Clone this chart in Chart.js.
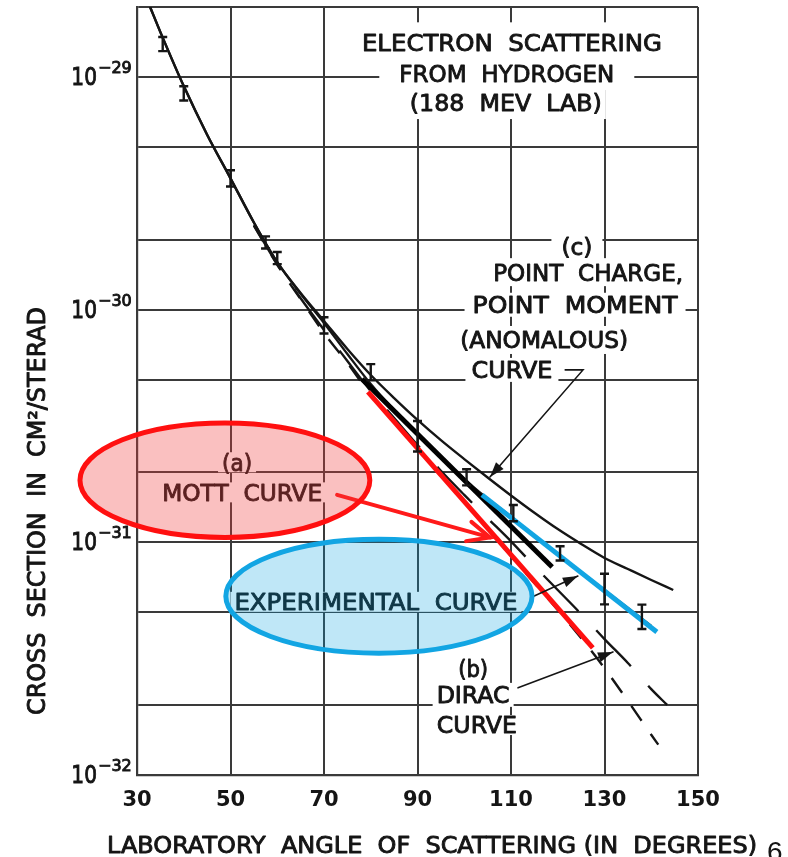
<!DOCTYPE html>
<html>
<head>
<meta charset="utf-8">
<title>Electron scattering from hydrogen</title>
<script src="https://cdn.jsdelivr.net/npm/chart.js@4.4.1/dist/chart.umd.min.js"></script>
<style>
  html, body { margin: 0; padding: 0; background: #fff; }
  #wrap { position: relative; width: 788px; height: 857px; }
</style>
</head>
<body>
<div id="wrap"><canvas id="scatterChart"></canvas></div>
<script>
// Laboratory angle in degrees, cross section in cm^2/sterad

// (c) point charge, point moment (anomalous)
const ANGLE_C = [32.8, 35, 40, 45, 50, 55, 60, 65, 70, 75, 80, 85, 90, 95, 100, 105, 110, 115, 120, 125, 130, 135, 140, 144.7];
const SIGMA_C = [2.00e-29, 1.56e-29, 9.14e-30, 5.65e-30, 3.67e-30, 2.37e-30, 1.60e-30, 1.18e-30, 8.94e-31, 6.78e-31,
                 5.24e-31, 4.17e-31, 3.36e-31, 2.75e-31, 2.28e-31, 1.90e-31, 1.59e-31, 1.34e-31, 1.14e-31, 9.84e-32,
                 8.57e-32, 7.68e-32, 6.89e-32, 6.24e-32];

// experimental curve
const ANGLE_EXP = [32.8, 35, 40, 45, 50, 55, 60, 65, 70, 75, 80, 85, 90, 95, 100, 105, 110, 115, 120, 125, 130, 135, 140];
const SIGMA_EXP = [2.00e-29, 1.56e-29, 9.14e-30, 5.65e-30, 3.67e-30, 2.37e-30, 1.60e-30, 1.17e-30, 8.77e-31, 6.45e-31,
                   4.79e-31, 3.70e-31, 2.92e-31, 2.33e-31, 1.87e-31, 1.54e-31, 1.29e-31, 1.06e-31, 8.91e-32, 7.46e-32,
                   6.24e-32, 5.22e-32, 4.37e-32];

// (b) Dirac curve
const ANGLE_DIRAC = [55, 60, 65, 70, 75, 80, 85, 90, 95, 100, 105, 110, 115, 120, 125, 130, 135, 140, 143.4];
const SIGMA_DIRAC = [2.31e-30, 1.57e-30, 1.12e-30, 8.18e-31, 6.02e-31, 4.47e-31, 3.42e-31, 2.62e-31, 2.03e-31, 1.60e-31,
                     1.27e-31, 1.01e-31, 7.91e-32, 6.24e-32, 4.92e-32, 3.84e-32, 3.03e-32, 2.34e-32, 2.00e-32];

// (a) Mott curve
const ANGLE_MOTT = [55, 60, 65, 70, 75, 80, 85, 90, 95, 100, 105, 110, 115, 120, 125, 130, 135, 140, 141.5];
const SIGMA_MOTT = [2.30e-30, 1.56e-30, 1.11e-30, 7.94e-31, 5.90e-31, 4.30e-31, 3.29e-31, 2.52e-31, 1.93e-31, 1.49e-31,
                    1.14e-31, 8.73e-32, 6.69e-32, 5.12e-32, 3.88e-32, 2.88e-32, 2.08e-32, 1.49e-32, 1.35e-32];

// measured points with relative errors (%)
const POINT_ANGLE = [35.5, 40, 50, 57.5, 60, 70, 80, 90, 100.5, 110.5, 120.5, 130, 138];
const POINT_SIGMA = [1.39e-29, 8.53e-30, 3.68e-30, 1.95e-30, 1.67e-30, 8.59e-31, 5.40e-31, 2.89e-31, 1.91e-31, 1.34e-31,
                     8.99e-32, 6.37e-32, 4.82e-32];
const POINT_ERR_PCT = [7, 7, 8, 6, 6, 8, 8, 15, 8, 8, 7, 15, 12];

// straight marker strokes laid over the curves
const RED_ANGLE = [79.4, 127.5];
const RED_SIGMA = [4.43e-31, 3.52e-32];
const BLACK_ANGLE = [78.1, 118.8];
const BLACK_SIGMA = [5.04e-31, 7.83e-32];
const BLUE_ANGLE = [103.8, 141.2];
const BLUE_SIGMA = [1.60e-31, 4.12e-32];

// axes
const X_TICKS = [30, 50, 70, 90, 110, 130, 150];
const Y_GRID = [1e-32, 2e-32, 5e-32, 1e-31, 2e-31, 5e-31, 1e-30, 2e-30, 5e-30, 1e-29, 2e-29];
const Y_LABEL_EXP = [-29, -30, -31, -32];

const FONT = '"DejaVu Sans", "Liberation Sans", sans-serif';
const INK = '#151515';
const GRID = '#3a3a3a';

// text notes anchored in data coordinates: [angle, sigma]
const NOTES = [
  { text: 'ELECTRON  SCATTERING', at: [110.2, 1.41e-29], w: 300, pad: [6, 20] },
  { text: 'FROM  HYDROGEN',       at: [109.1, 1.03e-29], w: 215, pad: [20, 16] },
  { text: '(188  MEV  LAB)',      at: [108.9, 7.73e-30], w: 192, pad: [4, 16] },
  { text: '(c)',                  at: [124.1, 1.86e-30], w: 31,  pad: [10, 14] },
  { text: 'POINT  CHARGE,',       at: [126.5, 1.45e-30], w: 190, pad: [4, 14] },
  { text: 'POINT  MOMENT',        at: [123.7, 1.05e-30], w: 205, pad: [8, 12] },
  { text: '(ANOMALOUS)',          at: [117.1, 7.41e-31], w: 168, pad: [4, 14] },
  { text: 'CURVE',                at: [110.2, 5.51e-31], w: 81,  pad: [6, 12] },
  { text: '(a)',                  at: [51.4, 2.21e-31],  w: 30,  pad: [4, 10] },
  { text: 'MOTT  CURVE',          at: [52.5, 1.64e-31],  w: 160, pad: [6, 10] },
  { text: 'EXPERIMENTAL  CURVE',  at: [81.1, 5.55e-32],  w: 283, pad: [4, 10] },
  { text: '(b)',                  at: [101.9, 2.88e-32], w: 30,  pad: [4, 12] },
  { text: 'DIRAC',                at: [101.9, 2.21e-32], w: 73,  pad: [4, 12] },
  { text: 'CURVE',                at: [102.7, 1.64e-32], w: 80,  pad: [4, 10] }
];

// pointer arrows (last point is the tip)
const ARROWS = [
  { path: [[121.6, 5.51e-31], [125.4, 5.51e-31], [105.5, 1.91e-31]], color: INK, width: 1.6, head: 'fill' },
  { path: [[114.5, 5.82e-32], [124.3, 7.16e-32]], color: INK, width: 1.6, head: 'fill' },
  { path: [[111.5, 2.37e-32], [131.8, 3.38e-32]], color: INK, width: 1.6, head: 'fill' },
  { path: [[72.8, 1.60e-31], [105.5, 1.05e-31]], color: '#ff1a1a', width: 4, head: 'open' }
];

// highlight ellipses given by their bounding box [angle1, angle2, sigmaTop, sigmaBottom]
const ELLIPSES = [
  { box: [17.8, 79.8, 3.26e-31, 1.05e-31], fill: 'rgba(240, 60, 60, 0.32)', stroke: '#ff1010' },
  { box: [49.0, 114.5, 1.03e-31, 3.34e-32], fill: 'rgba(0, 160, 225, 0.25)', stroke: '#12a5e3' }
];

function pairs(xs, ys) {
  return xs.map((x, i) => ({ x: x, y: ys[i] }));
}

// lettering: filled and lightly stroked so it reads as a drafting pen
function fitText(ctx, str, x, y, size, width) {
  ctx.save();
  ctx.font = size + 'px ' + FONT;
  const w0 = ctx.measureText(str).width;
  ctx.translate(x, y);
  if (width) ctx.scale(width / w0, 1);
  ctx.textAlign = 'center';
  ctx.textBaseline = 'alphabetic';
  ctx.lineWidth = 0.9;
  ctx.lineJoin = 'round';
  ctx.strokeStyle = ctx.fillStyle;
  ctx.fillText(str, 0, size * 0.365);
  ctx.strokeText(str, 0, size * 0.365);
  ctx.restore();
}

function arrowHead(ctx, from, to, len, half, style) {
  const ang = Math.atan2(to[1] - from[1], to[0] - from[0]);
  const bx = to[0] - len * Math.cos(ang), by = to[1] - len * Math.sin(ang);
  const nx = -Math.sin(ang) * half, ny = Math.cos(ang) * half;
  ctx.beginPath();
  if (style === 'fill') {
    ctx.moveTo(to[0], to[1]);
    ctx.lineTo(bx + nx, by + ny);
    ctx.lineTo(bx - nx, by - ny);
    ctx.closePath();
    ctx.fill();
  } else {
    ctx.moveTo(bx + nx, by + ny);
    ctx.lineTo(to[0], to[1]);
    ctx.lineTo(bx - nx, by - ny);
    ctx.stroke();
  }
}

// white boxes behind the notes, drawn over the grid but under the curves
const noteBacks = {
  id: 'noteBacks',
  beforeDatasetsDraw(chart) {
    const ctx = chart.ctx, xs = chart.scales.x, ys = chart.scales.y;
    ctx.save();
    ctx.fillStyle = '#fff';
    NOTES.forEach(n => {
      const x = xs.getPixelForValue(n.at[0]), y = ys.getPixelForValue(n.at[1]);
      ctx.fillRect(x - n.w / 2 - n.pad[0], y - n.pad[1], n.w + 2 * n.pad[0], 2 * n.pad[1]);
    });
    ctx.fillStyle = INK;
    NOTES.forEach(n => {
      fitText(ctx, n.text, xs.getPixelForValue(n.at[0]), ys.getPixelForValue(n.at[1]), 23, n.w);
    });
    ctx.restore();
  }
};

// error bars, arrows, ellipses, y labels and axis titles
const decorations = {
  id: 'decorations',
  afterDatasetsDraw(chart) {
    const ctx = chart.ctx, xs = chart.scales.x, ys = chart.scales.y;
    ctx.save();

    // error bars
    ctx.strokeStyle = INK;
    ctx.lineWidth = 2.4;
    POINT_ANGLE.forEach((a, i) => {
      const x = xs.getPixelForValue(a);
      const e = POINT_ERR_PCT[i] / 100;
      const yTop = ys.getPixelForValue(POINT_SIGMA[i] * (1 + e));
      const yBot = ys.getPixelForValue(POINT_SIGMA[i] * (1 - e));
      ctx.beginPath();
      ctx.moveTo(x, yTop); ctx.lineTo(x, yBot);
      ctx.moveTo(x - 4.5, yTop); ctx.lineTo(x + 4.5, yTop);
      ctx.moveTo(x - 4.5, yBot); ctx.lineTo(x + 4.5, yBot);
      ctx.stroke();
    });

    // arrows
    ARROWS.forEach(ar => {
      const pts = ar.path.map(p => [xs.getPixelForValue(p[0]), ys.getPixelForValue(p[1])]);
      ctx.strokeStyle = ar.color;
      ctx.fillStyle = ar.color;
      ctx.lineWidth = ar.width;
      ctx.lineCap = 'round';
      ctx.beginPath();
      pts.forEach((p, i) => i ? ctx.lineTo(p[0], p[1]) : ctx.moveTo(p[0], p[1]));
      ctx.stroke();
      const n = pts.length;
      if (ar.head === 'fill') arrowHead(ctx, pts[n - 2], pts[n - 1], 15, 5, 'fill');
      else arrowHead(ctx, pts[n - 2], pts[n - 1], 22, 10, 'open');
    });

    // ellipses
    ELLIPSES.forEach(el => {
      const x1 = xs.getPixelForValue(el.box[0]), x2 = xs.getPixelForValue(el.box[1]);
      const y1 = ys.getPixelForValue(el.box[2]), y2 = ys.getPixelForValue(el.box[3]);
      ctx.beginPath();
      ctx.ellipse((x1 + x2) / 2, (y1 + y2) / 2, (x2 - x1) / 2, (y2 - y1) / 2, 0, 0, Math.PI * 2);
      ctx.fillStyle = el.fill;
      ctx.fill();
      ctx.strokeStyle = el.stroke;
      ctx.lineWidth = 5;
      ctx.stroke();
    });

    // y labels as powers of ten
    ctx.fillStyle = INK;
    ctx.strokeStyle = INK;
    ctx.lineWidth = 0.9;
    Y_LABEL_EXP.forEach(p => {
      const y = ys.getPixelForValue(Math.pow(10, p));
      ctx.font = '24px ' + FONT;
      ctx.textAlign = 'right';
      ctx.textBaseline = 'alphabetic';
      ctx.save();
      ctx.translate(97, y + 8);
      ctx.scale(0.84, 1);
      ctx.fillText('10', 0, 0);
      ctx.strokeText('10', 0, 0);
      ctx.restore();
      ctx.font = '16px ' + FONT;
      ctx.textAlign = 'left';
      ctx.fillText('\u2212' + String(-p), 98, y - 4);
      ctx.strokeText('\u2212' + String(-p), 98, y - 4);
    });

    // axis titles
    fitText(ctx, 'LABORATORY  ANGLE  OF  SCATTERING (IN  DEGREES)', 432, 845, 23, 650);
    ctx.save();
    ctx.translate(36, 511);
    ctx.rotate(-Math.PI / 2);
    fitText(ctx, 'CROSS  SECTION  IN  CM\u00B2/STERAD', 0, 0, 24, 408);
    ctx.restore();

    // page number
    ctx.font = '28px "Liberation Sans", sans-serif';
    ctx.textAlign = 'left';
    ctx.fillText('6', 767, 861);

    ctx.restore();
  }
};

const curve = {
  type: 'line',
  borderColor: INK,
  borderWidth: 2.4,
  pointRadius: 0,
  fill: false,
  cubicInterpolationMode: 'monotone',
  order: 10
};

new Chart(document.getElementById('scatterChart'), {
  type: 'line',
  data: {
    datasets: [
      { label: 'Experimental (blue)', data: pairs(BLUE_ANGLE, BLUE_SIGMA), borderColor: '#12a5e3', borderWidth: 5, pointRadius: 0, borderCapStyle: 'butt', order: 0 },
      { label: 'Mott (red)', data: pairs(RED_ANGLE, RED_SIGMA), borderColor: '#ff1010', borderWidth: 5, pointRadius: 0, borderCapStyle: 'butt', order: 1 },
      { label: 'Experimental (black)', data: pairs(BLACK_ANGLE, BLACK_SIGMA), borderColor: '#000', borderWidth: 5, pointRadius: 0, borderCapStyle: 'butt', order: 2 },
      Object.assign({ label: '(c) point charge, point moment', data: pairs(ANGLE_C, SIGMA_C) }, curve),
      Object.assign({ label: 'Experimental curve', data: pairs(ANGLE_EXP, SIGMA_EXP) }, curve),
      Object.assign({ label: '(b) Dirac curve', data: pairs(ANGLE_DIRAC, SIGMA_DIRAC), borderDash: [50, 26] }, curve),
      Object.assign({ label: '(a) Mott curve', data: pairs(ANGLE_MOTT, SIGMA_MOTT), borderDash: [18, 16] }, curve),
      { label: 'Measured', type: 'scatter', data: pairs(POINT_ANGLE, POINT_SIGMA), pointRadius: 0, showLine: false, order: 5 }
    ]
  },
  options: {
    responsive: true,
    maintainAspectRatio: false,
    animation: false,
    layout: { padding: { top: 7, right: 90, left: 0, bottom: 0 } },
    plugins: {
      legend: { display: false },
      tooltip: { enabled: false }
    },
    scales: {
      x: {
        type: 'linear',
        min: 30,
        max: 150,
        afterBuildTicks(scale) { scale.ticks = X_TICKS.map(v => ({ value: v })); },
        afterFit(scale) { scale.height = 82; },
        ticks: { color: INK, padding: 13, font: { family: FONT, size: 21, weight: 'bold' } },
        grid: { color: GRID, lineWidth: 2, drawTicks: false },
        border: { color: GRID, width: 2.2 }
      },
      y: {
        type: 'logarithmic',
        min: 1e-32,
        max: 2e-29,
        afterBuildTicks(scale) { scale.ticks = Y_GRID.map(v => ({ value: v })); },
        afterFit(scale) { scale.width = 137; },
        ticks: { display: false },
        grid: { color: GRID, lineWidth: 2, drawTicks: false },
        border: { color: GRID, width: 2.2 }
      }
    }
  },
  plugins: [noteBacks, decorations]
});
</script>
</body>
</html>
